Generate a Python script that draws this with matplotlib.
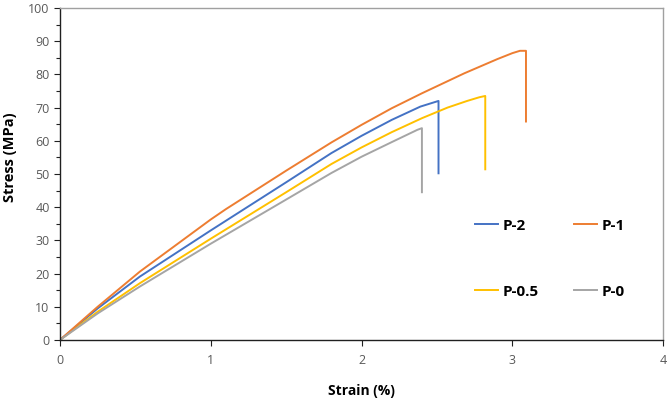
import numpy as np
import matplotlib.pyplot as plt
from matplotlib.ticker import MultipleLocator

# strain (%) and stress (MPa)
p2_x = [0, 0.25, 0.53, 1.0, 1.5, 1.8, 2.0, 2.2, 2.39, 2.51, 2.51]
p2_y = [0, 9.5, 19.1, 33.0, 47.5, 56.3, 61.5, 66.3, 70.3, 72.0, 50.2]

p1_x = [0, 0.25, 0.53, 1.0, 1.1, 1.5, 1.8, 2.0, 2.2, 2.4, 2.68, 2.9, 3.0, 3.05, 3.09, 3.09]
p1_y = [0, 10.0, 20.6, 36.3, 39.4, 51.0, 59.5, 64.8, 69.8, 74.3, 80.3, 84.6, 86.4, 87.1, 87.1, 65.8]

p05_x = [0, 0.25, 0.53, 1.0, 1.5, 1.8, 2.0, 2.2, 2.4, 2.57, 2.7, 2.78, 2.82, 2.82]
p05_y = [0, 8.5, 17.1, 30.5, 44.5, 53.0, 58.0, 62.6, 66.8, 70.0, 72.0, 73.1, 73.5, 51.4]

p0_x = [0, 0.25, 0.53, 1.0, 1.5, 1.8, 2.0, 2.2, 2.37, 2.40, 2.40]
p0_y = [0, 8.0, 16.1, 29.0, 42.3, 50.3, 55.2, 59.6, 63.3, 63.8, 44.5]

plt.rcParams['font.family'] = ['Open Sans', 'DejaVu Sans']

fig = plt.figure(figsize=(6.71, 3.99), dpi=100)
ax = fig.add_axes([0.0894, 0.148, 0.899, 0.832])

ax.plot(p2_x, p2_y, color='#4472C4', lw=1.4, label='P-2')
ax.plot(p05_x, p05_y, color='#FFC000', lw=1.4, label='P-0.5')
ax.plot(p1_x, p1_y, color='#ED7D31', lw=1.4, label='P-1')
ax.plot(p0_x, p0_y, color='#A5A5A5', lw=1.4, label='P-0')

ax.set_xlim(0, 4)
ax.set_ylim(0, 100)
ax.xaxis.set_major_locator(MultipleLocator(1))
ax.yaxis.set_major_locator(MultipleLocator(10))
ax.yaxis.set_minor_locator(MultipleLocator(5))

ax.spines['left'].set_color('#202020')
ax.spines['bottom'].set_color('#202020')
ax.spines['top'].set_color('#A0A0A0')
ax.spines['right'].set_color('#A0A0A0')
for s in ax.spines.values():
    s.set_linewidth(1.0)

ax.tick_params(axis='both', which='major', labelsize=9, labelcolor='#595959',
               length=4, width=0.8, color='#202020')
ax.tick_params(axis='y', which='minor', length=3, width=0.8, color='#202020')
ax.tick_params(axis='x', pad=6)

ax.set_xlabel('Strain (%)', fontsize=10, fontweight='bold')
ax.set_ylabel('Stress (MPa)', fontsize=10.5, fontweight='bold')
ax.xaxis.set_label_coords(0.5, -0.133)
ax.yaxis.set_label_coords(-0.072, 0.551)

leg = ax.legend(loc='center', bbox_to_anchor=(0.82, 0.352), bbox_transform=fig.transFigure,
                ncol=2, frameon=False, prop={'weight': 'bold', 'size': 11},
                handlelength=1.5, handletextpad=0.3, columnspacing=2.3, labelspacing=3.4)

fig.savefig('out.png', dpi=100)
